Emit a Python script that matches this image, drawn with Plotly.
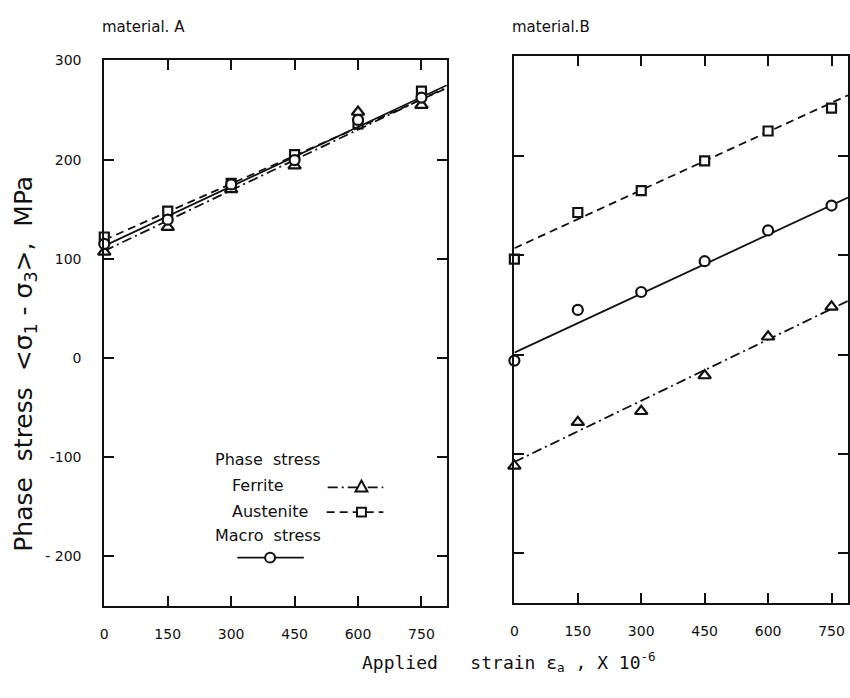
import plotly.graph_objects as go

# ---------------- data ----------------
strain = [0, 150, 300, 450, 600, 750]

A_ferrite = [107, 132, 170, 194, 248, 255]
A_austenite = [122, 148, 176, 205, 236, 269]
A_macro = [115, 139.5, 175, 199.5, 240, 262.5]

A_fit_x = [0, 810]
A_fit_ferrite = [108, 273]
A_fit_austenite = [119, 272]
A_fit_macro = [113, 275]

B_ferrite = [-112, -68, -57, -21, 18, 48]
B_austenite = [96, 143, 165, 195, 225, 248]
B_macro = [-6, 45, 63, 94, 125, 150]

B_fit_x = [0, 789]
B_fit_ferrite = [-108, 54]
B_fit_austenite = [107, 261]
B_fit_macro = [2, 158]

x_ticks = [0, 150, 300, 450, 600, 750]
y_ticks = [-200, -100, 0, 100, 200, 300]
y_tick_text = ["- 200", "-100", "0", "100", "200", "300"]

# ---------------- layout helpers ----------------
W, H = 850, 698
def fx(px):
    return px / W
def fy(py):
    return 1 - py / H

FONT = "DejaVu Sans"
BLACK = "#111111"
FERRITE_DASH = "10px,4px,2px,4px"
AUST_DASH = "8px,5px"

fig = go.Figure()

def add_series(xa, ya, xs, ys, fitx, fity, symbol, dash, size):
    fig.add_trace(go.Scatter(x=fitx, y=fity, mode="lines", xaxis=xa, yaxis=ya,
                             line=dict(color=BLACK, width=1.8, dash=dash),
                             showlegend=False, hoverinfo="skip"))
    fig.add_trace(go.Scatter(x=xs, y=ys, mode="markers", xaxis=xa, yaxis=ya,
                             marker=dict(symbol=symbol, size=size, color="white",
                                         line=dict(color=BLACK, width=2.2)),
                             cliponaxis=False, showlegend=False))

# panel A
add_series("x", "y", strain, A_ferrite, A_fit_x, A_fit_ferrite, "triangle-up", FERRITE_DASH, 11)
add_series("x", "y", strain, A_austenite, A_fit_x, A_fit_austenite, "square", AUST_DASH, 9)
add_series("x", "y", strain, A_macro, A_fit_x, A_fit_macro, "circle", "solid", 10)
# panel B
add_series("x2", "y2", strain, B_ferrite, B_fit_x, B_fit_ferrite, "triangle-up", FERRITE_DASH, 11)
add_series("x2", "y2", strain, B_austenite, B_fit_x, B_fit_austenite, "square", AUST_DASH, 9)
add_series("x2", "y2", strain, B_macro, B_fit_x, B_fit_macro, "circle", "solid", 10)

axis_common = dict(showgrid=False, zeroline=False, showline=True, linecolor=BLACK,
                   linewidth=2, ticks="inside", ticklen=10, tickwidth=1.5,
                   tickcolor=BLACK, mirror="ticks",
                   tickfont=dict(family=FONT, size=14, color=BLACK))

fig.update_layout(
    width=W, height=H,
    margin=dict(l=0, r=0, t=0, b=0),
    paper_bgcolor="white", plot_bgcolor="white",
    showlegend=False,
    xaxis=dict(domain=[fx(101), fx(446)], range=[0, 810], anchor="y",
               tickvals=x_ticks, ticklabelstandoff=14, **axis_common),
    yaxis=dict(domain=[fy(605), fy(53)], range=[-250, 300], anchor="x",
               tickvals=y_ticks, ticktext=y_tick_text, ticklabelstandoff=18,
               **axis_common),
    xaxis2=dict(domain=[fx(514), 1.0], range=[0, 789], anchor="y2",
                tickvals=x_ticks, ticklabelstandoff=14, **axis_common),
    yaxis2=dict(domain=[fy(602), fy(49)], range=[-250, 300], anchor="x2",
                tickvals=y_ticks, showticklabels=False, **axis_common),
)

annotations = [
    dict(text="material. A", x=fx(97), y=fy(19), xanchor="left", yanchor="middle",
         font=dict(family=FONT, size=15, color=BLACK)),
    dict(text="material.B", x=fx(510), y=fy(19), xanchor="left", yanchor="middle",
         font=dict(family=FONT, size=15, color=BLACK)),
    dict(text="Phase  stress  &lt;σ<sub>1</sub> - σ<sub>3</sub>&gt;,  MPa", x=fx(21), y=fy(360),
         textangle=-90, xanchor="center", yanchor="middle",
         font=dict(family=FONT, size=25, color=BLACK)),
    dict(text="Applied   strain ε<sub>a</sub> , X 10<sup>-6</sup>", x=fx(509), y=fy(662),
         xanchor="center", yanchor="middle",
         font=dict(family="DejaVu Sans Mono", size=18, color=BLACK)),
    # legend texts
    dict(text="Phase  stress", x=fx(210), y=fy(457), xanchor="left", yanchor="middle",
         font=dict(family=FONT, size=16, color=BLACK)),
    dict(text="Ferrite", x=fx(228), y=fy(483), xanchor="left", yanchor="middle",
         font=dict(family=FONT, size=16, color=BLACK)),
    dict(text="Austenite", x=fx(228), y=fy(509), xanchor="left", yanchor="middle",
         font=dict(family=FONT, size=16, color=BLACK)),
    dict(text="Macro  stress", x=fx(210), y=fy(534), xanchor="left", yanchor="middle",
         font=dict(family=FONT, size=16, color=BLACK)),
]
for a in annotations:
    a.update(xref="paper", yref="paper", showarrow=False)
fig.update_layout(annotations=annotations)

# legend keys as shapes
shapes = []
def hline(x0, x1, y, dash):
    shapes.append(dict(type="line", xref="paper", yref="paper",
                       x0=fx(x0), x1=fx(x1), y0=fy(y), y1=fy(y),
                       line=dict(color=BLACK, width=1.8, dash=dash)))
hline(326, 382, 485, FERRITE_DASH)
hline(325, 382, 510, AUST_DASH)
hline(235, 302, 556, "solid")
# triangle
tx, ty, s = 360, 485, 6
shapes.append(dict(type="path", xref="paper", yref="paper",
                   path=f"M {fx(tx-s)} {fy(ty+4)} L {fx(tx+s)} {fy(ty+4)} L {fx(tx)} {fy(ty-7)} Z",
                   fillcolor="white", line=dict(color=BLACK, width=2)))
# square
sx, sy, h = 360, 510, 4.5
shapes.append(dict(type="rect", xref="paper", yref="paper",
                   x0=fx(sx-h), x1=fx(sx+h), y0=fy(sy+h), y1=fy(sy-h),
                   fillcolor="white", line=dict(color=BLACK, width=2)))
# circle
cx, cy, r = 268, 556, 5
shapes.append(dict(type="circle", xref="paper", yref="paper",
                   x0=fx(cx-r), x1=fx(cx+r), y0=fy(cy+r), y1=fy(cy-r),
                   fillcolor="white", line=dict(color=BLACK, width=2)))
fig.update_layout(shapes=shapes)

fig.write_html("out.html", config={"displayModeBar": False},
               post_script="document.body.style.margin='0px';document.body.style.padding='0px';document.body.style.overflow='hidden';")
